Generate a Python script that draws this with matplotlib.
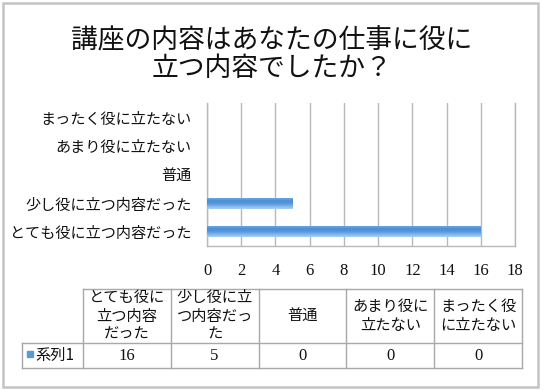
import numpy as np
import matplotlib
matplotlib.use('Agg')
import matplotlib.pyplot as plt
from matplotlib.patches import Rectangle
from matplotlib.colors import LinearSegmentedColormap

plt.rcParams['font.family'] = ['Noto Sans CJK JP', 'DejaVu Sans']

title = "講座の内容はあなたの仕事に役に\n立つ内容でしたか？"
categories = ["とても役に立つ内容だった", "少し役に立つ内容だった", "普通",
              "あまり役に立たない", "まったく役に立たない"]
table_headers = ["とても役に\n立つ内容\nだった", "少し役に立\nつ内容だっ\nた", "普通",
                 "あまり役に\n立たない", "まったく役\nに立たない"]
series_name = "系列1"
values = [16, 5, 0, 0, 0]
x_ticks = [0, 2, 4, 6, 8, 10, 12, 14, 16, 18]

W, H = 545, 391
fig = plt.figure(figsize=(W / 100, H / 100), dpi=100)

# overlay in pixel coordinates
ov = fig.add_axes([0, 0, 1, 1], zorder=0)
ov.set_xlim(0, W)
ov.set_ylim(H, 0)
ov.axis('off')
ov.add_patch(Rectangle((3, 3), 535, 384, fill=False, ec='#c4c4c4', lw=1.8))
ov.text(272, 54, title, ha='center', va='center', fontsize=19.3,
        linespacing=1.1, color='#111111')

# bar chart
ax = fig.add_axes([207 / W, 1 - 246 / H, (515 - 207) / W, (246 - 103) / H], zorder=1)
ax.patch.set_alpha(0)
ypos = np.arange(len(categories))
bars = ax.barh(ypos, values, height=0.38, color='#5b9bd5', zorder=3)
ax.set_xlim(0, 18)
ax.set_ylim(-0.5, len(categories) - 0.5)

cmap = LinearSegmentedColormap.from_list(
    'g', ['#aad0f4', '#7fb5eb', '#5597dc', '#4b8ed8', '#6aa6e4'])
grad = np.linspace(0, 1, 64).reshape(-1, 1)
for b in bars:
    if b.get_width() <= 0:
        continue
    x0, y0, w, h = b.get_x(), b.get_y(), b.get_width(), b.get_height()
    im = ax.imshow(grad, cmap=cmap, aspect='auto', extent=(x0, x0 + w, y0 + h, y0),
                   zorder=4, interpolation='bilinear')
    im.set_clip_path(b)
ax.set_xlim(0, 18)
ax.set_ylim(-0.5, len(categories) - 0.5)

ax.set_xticks(x_ticks)
ax.set_xticklabels([str(t) for t in x_ticks], fontfamily='Liberation Serif',
                   fontsize=12, color='#111111')
ax.set_yticks(ypos)
ax.set_yticklabels(categories, fontsize=10.9, color='#111111')
ax.tick_params(axis='y', length=0, pad=11)
ax.tick_params(axis='x', length=0, pad=12)
ax.grid(axis='x', color='#b8b8b8', lw=1, zorder=1)
ax.spines['top'].set_visible(False)
for s in ['left', 'bottom', 'right']:
    ax.spines[s].set_color('#b8b8b8')
    ax.spines[s].set_linewidth(1)

# data table
lc = '#a8a8a8'
cols = [82.7 + i * 87.9 for i in range(len(categories) + 1)]
top, mid, bot, left = 289, 343, 368, 22
ov.plot([cols[0], cols[-1]], [top, top], color=lc, lw=1)
ov.plot([left, cols[-1]], [mid, mid], color=lc, lw=1)
ov.plot([left, cols[-1]], [bot, bot], color=lc, lw=1)
ov.plot([left, left], [mid, bot], color=lc, lw=1)
for c in cols:
    ov.plot([c, c], [top, bot], color=lc, lw=1)
for i, (hdr, v) in enumerate(zip(table_headers, values)):
    cx = (cols[i] + cols[i + 1]) / 2
    ov.text(cx, (top + mid) / 2, hdr, ha='center', va='center', fontsize=11,
            linespacing=1.1, color='#111111')
    ov.text(cx, (mid + bot) / 2 + 1, str(v), ha='center', va='center', fontsize=12,
            fontfamily='Liberation Serif', color='#111111')
ov.add_patch(Rectangle((27, 351), 6, 6, color='#5b9bd5'))
ov.text(35, (mid + bot) / 2, series_name, ha='left', va='center', fontsize=11,
        color='#111111')

fig.savefig('out.png', dpi=100)
